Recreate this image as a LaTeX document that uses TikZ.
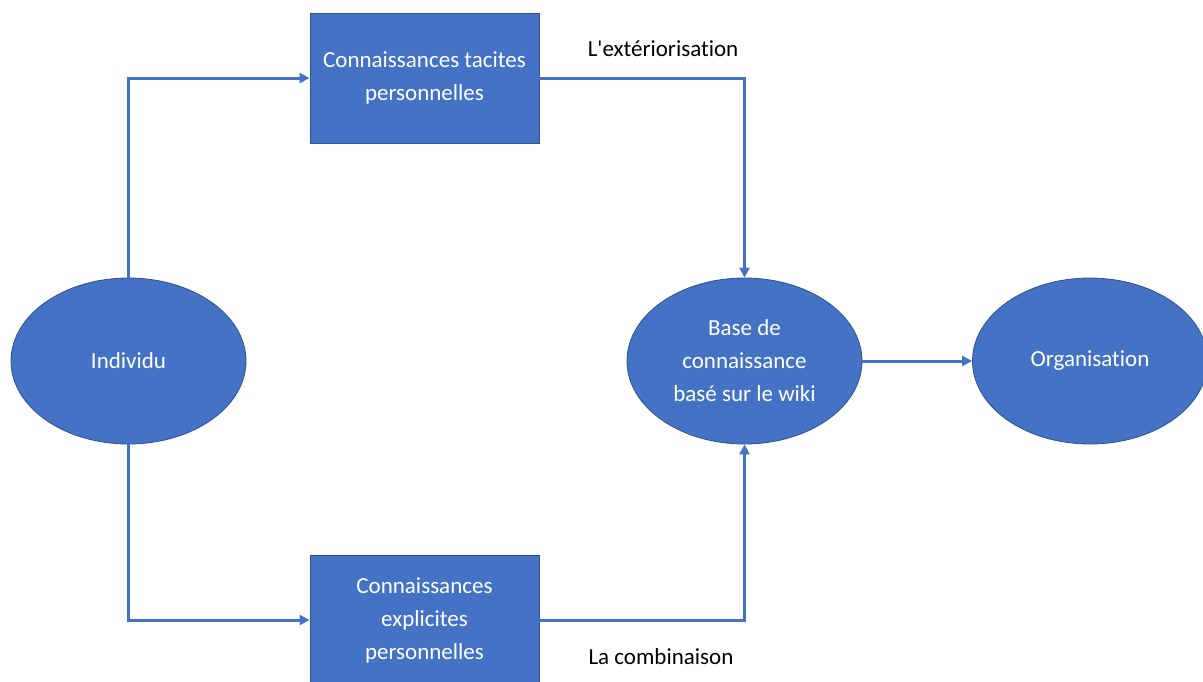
\documentclass[tikz,border=0pt]{standalone}
\usepackage{fontspec}
\setmainfont{Carlito}[Ligatures={NoCommon}]
\usetikzlibrary{arrows.meta,shapes.geometric}
\definecolor{boxblue}{HTML}{4472C4}
\definecolor{edgeblue}{HTML}{2F528F}

\begin{document}
\begin{tikzpicture}[
    x=0.5pt, y=-0.5pt, % 1 unit = 1 pixel of the reference
    font=\fontsize{11.5}{16.5}\selectfont,
    bloc/.style={rectangle, fill=boxblue, draw=edgeblue, line width=0.4pt,
        text=white, align=center, minimum width=114.5pt, minimum height=65pt, inner sep=0pt},
    rond/.style={ellipse, fill=boxblue, draw=edgeblue, line width=0.4pt,
        text=white, align=center, minimum width=117.5pt, minimum height=83pt, inner sep=0pt},
    fleche/.style={draw=boxblue, line width=1.5pt, -{Triangle[length=5pt,width=5pt]}}
    ]
    % --- drawing area ---
    \def\xmax{1203} \def\ymax{681}
    \useasboundingbox (0,0) rectangle (\xmax,\ymax);
    \clip (0,0) rectangle (\xmax,\ymax);

    % 1. the nodes
    \node[rond] (individu) at (128.5,361) {Individu};
    \node[bloc] (tacite) at (424.5,78) {Connaissances tacites\\personnelles};
    \node[bloc] (explicite) at (424.5,620) {Connaissances\\explicites\\personnelles};
    \node[rond] (wiki) at (744.5,361) {Base de\\connaissance\\basé sur le wiki};
    \node[rond] (orga) at (1090,361) {Organisation};

    % 2. the connectors
    \draw[fleche] (individu.north) |- (tacite.west);
    \draw[fleche] (individu.south) |- (explicite.west);
    \draw[fleche] (tacite.east) -| (wiki.north);
    \draw[fleche] (explicite.east) -| (wiki.south);
    \draw[fleche] (wiki.east) -- (orga.west);

    % 3. the labels
    \node (exter) at (663,49) {L\textquotesingle ext\'eriorisation};
    \node (combi) at (661,657) {La combinaison};
\end{tikzpicture}
\end{document}
